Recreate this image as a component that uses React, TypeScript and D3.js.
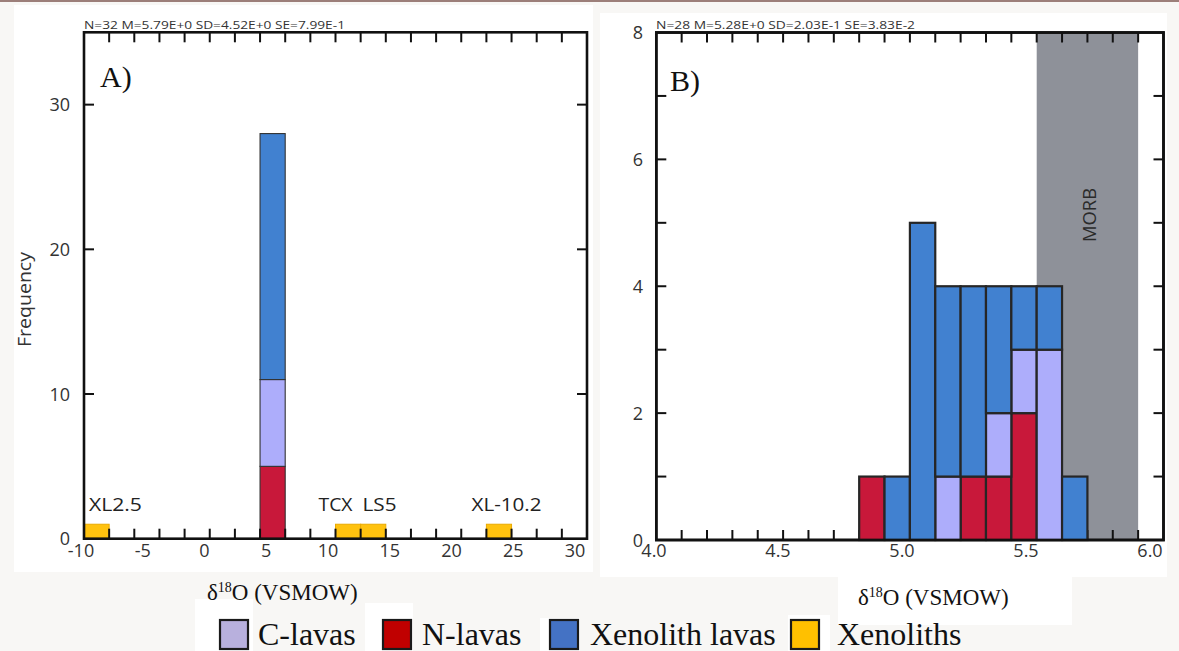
import React from "react";
import * as d3 from "d3";

const W = 1179;
const H = 651;

// ---------- data ----------
const statsA = "N=32 M=5.79E+0 SD=4.52E+0 SE=7.99E-1";
const statsB = "N=28 M=5.28E+0 SD=2.03E-1 SE=3.83E-2";

const stackKeys = ["nLavas", "cLavas", "xenoLavas", "xenoliths"];

// Panel A (bin width 2)
const binWidthA = 2;
const binStartA = [-10, 4, 10, 12, 22];
const nLavasA = [0, 5, 0, 0, 0];
const cLavasA = [0, 6, 0, 0, 0];
const xenoLavasA = [0, 17, 0, 0, 0];
const xenolithsA = [1, 0, 1, 1, 1];
const xenolithNames = ["XL2.5", "TCX", "LS5", "XL-10.2"];
const xenolithNameAt = [-7.5, 10, 13.5, 23.6];
const xTickLabelsA = [-10, -5, 0, 5, 10, 15, 20, 25, 30];
const yTickLabelsA = [0, 10, 20, 30];

// Panel B (bin width 0.1)
const binWidthB = 0.1;
const binStartB = [4.8, 4.9, 5.0, 5.1, 5.2, 5.3, 5.4, 5.5, 5.6];
const nLavasB = [1, 0, 0, 0, 1, 1, 2, 0, 0];
const cLavasB = [0, 0, 0, 1, 0, 1, 1, 3, 0];
const xenoLavasB = [0, 1, 5, 3, 3, 2, 1, 1, 1];
const xenolithsB = [0, 0, 0, 0, 0, 0, 0, 0, 0];
const morbRange = [5.5, 5.9];
const xTickLabelsB = [4.0, 4.5, 5.0, 5.5, 6.0];
const yTickLabelsB = [0, 2, 4, 6, 8];

// Legend
const legendKeys = ["cLavas", "nLavas", "xenoLavas", "xenoliths"];
const legendLabels = ["C-lavas", "N-lavas", "Xenolith lavas", "Xenoliths"];

// ---------- styles ----------
const barColor: Record<string, string> = {
  nLavas: "#c8183a",
  cLavas: "#adadfb",
  xenoLavas: "#4181d0",
  xenoliths: "#ffc20f",
};
const legendColor: Record<string, string> = {
  cLavas: "#b8b0dd",
  nLavas: "#c00000",
  xenoLavas: "#4472c4",
  xenoliths: "#ffc000",
};
const SANS = "'Open Sans', 'Noto Sans', sans-serif";
const SERIF = "'Liberation Serif', 'DejaVu Serif', serif";
const legendSwatchX = [220, 383, 550, 791];
const legendTextX = [258, 422, 590, 837];
const xenolithNameWidth = [53, 34, 34, 70];

// ---------- scales ----------
const xA = d3.scaleLinear().domain([-10, 30]).range([84, 587]);
const yA = d3.scaleLinear().domain([0, 35]).range([538.7, 32.3]);
const xLabA = d3.scaleLinear().domain([-10, 30]).range([81, 575]);

const xB = d3.scaleLinear().domain([4, 6]).range([656.3, 1163.5]);
const yB = d3.scaleLinear().domain([0, 8]).range([540, 32.5]);
const xLabB = d3.scaleLinear().domain([4, 6]).range([654, 1150]);

const stack = d3.stack<any>().keys(stackKeys);

const rowsA = binStartA.map((x0, i) => ({
  x0,
  nLavas: nLavasA[i],
  cLavas: cLavasA[i],
  xenoLavas: xenoLavasA[i],
  xenoliths: xenolithsA[i],
}));
const rowsB = binStartB.map((x0, i) => ({
  x0,
  nLavas: nLavasB[i],
  cLavas: cLavasB[i],
  xenoLavas: xenoLavasB[i],
  xenoliths: xenolithsB[i],
}));

function Bars({ rows, x, y, bw, thick }: any) {
  const series = stack(rows);
  const out: any[] = [];
  series.forEach((s: any) => {
    s.forEach((d: any, i: number) => {
      if (d[1] - d[0] <= 0) return;
      const x0 = x(rows[i].x0);
      const x1 = x(rows[i].x0 + bw);
      const key = s.key;
      out.push(
        <rect
          key={key + i}
          x={x0}
          y={y(d[1])}
          width={x1 - x0}
          height={y(d[0]) - y(d[1])}
          fill={barColor[key]}
          stroke={key === "xenoliths" ? "#e9a900" : thick ? "#262626" : "#333"}
          strokeWidth={key === "xenoliths" ? 1 : thick ? 2.2 : 1.1}
        />
      );
    });
  });
  return <g>{out}</g>;
}

function Frame({ x, y, xTicks, yTicks }: any) {
  const [x0, x1] = x.range();
  const [y0, y1] = y.range();
  const tl = 10;
  return (
    <g stroke="#111">
      {xTicks.map((t: number, i: number) => (
        <g key={"xt" + i} strokeWidth={2}>
          <line x1={x(t)} x2={x(t)} y1={y0} y2={y0 - tl} />
          <line x1={x(t)} x2={x(t)} y1={y1} y2={y1 + tl} />
        </g>
      ))}
      {yTicks.map((t: number, i: number) => (
        <g key={"yt" + i} strokeWidth={2}>
          <line x1={x0} x2={x0 + tl} y1={y(t)} y2={y(t)} />
          <line x1={x1} x2={x1 - tl} y1={y(t)} y2={y(t)} />
        </g>
      ))}
      <rect x={x0} y={y1} width={x1 - x0} height={y0 - y1} fill="none" strokeWidth={2.6} />
    </g>
  );
}

function DeltaTitle({ x, y }: { x: number; y: number }) {
  return (
    <text x={x} y={y} fontFamily={SERIF} fontSize={23} fill="#111">
      <tspan>δ</tspan>
      <tspan fontSize={14} dy={-8}>18</tspan>
      <tspan dy={8}>O (VSMOW)</tspan>
    </text>
  );
}

export default function App() {
  const xTicksA = d3.range(-8, 30, 2);
  const yTicksA = [10, 20, 30];
  const xTicksB = d3.range(1, 20).map((i) => 4 + i * 0.1);
  const yTicksB = d3.range(1, 8);

  return (
    <svg
      width={W}
      height={H}
      viewBox={`0 0 ${W} ${H}`}
      style={{ position: "absolute", left: 0, top: 0 }}
    >
      {/* background */}
      <rect x={0} y={0} width={W} height={H} fill="#f8f7f5" />
      <rect x={0} y={0} width={W} height={2} fill="#9c7f7a" />
      <rect x={14} y={5} width={579} height={567} fill="#ffffff" />
      <rect x={600} y={13} width={567} height={564} fill="#ffffff" />
      <rect x={838} y={570} width={234} height={55} fill="#ffffff" />
      <rect x={195} y={599} width={58} height={52} fill="#ffffff" />
      <rect x={365} y={603} width={48} height={48} fill="#ffffff" />
      <rect x={540} y={618} width={40} height={33} fill="#ffffff" />
      <rect x={788} y={615} width={42} height={36} fill="#ffffff" />

      {/* ---------- Panel A ---------- */}
      <text x={84} y={29} fontFamily={SANS} fontSize={11.5} fill="#333" textLength={261} lengthAdjust="spacingAndGlyphs">
        {statsA}
      </text>
      <Bars rows={rowsA} x={xA} y={yA} bw={binWidthA} thick={false} />
      <Frame x={xA} y={yA} xTicks={xTicksA} yTicks={yTicksA} />
      <text x={100} y={87} fontFamily={SERIF} fontSize={30} fill="#111">A)</text>
      {xenolithNames.map((n, i) => (
        <text
          key={n}
          x={xA(xenolithNameAt[i]) - xenolithNameWidth[i] / 2}
          y={511}
          fontFamily={SANS}
          fontSize={17.5}
          fill="#222"
          textLength={xenolithNameWidth[i]}
          lengthAdjust="spacingAndGlyphs"
        >
          {n}
        </text>
      ))}
      {xTickLabelsA.map((t) => (
        <text key={"xl" + t} x={xLabA(t)} y={557} textAnchor="middle" fontFamily={SANS} fontSize={18} fill="#333">
          {t}
        </text>
      ))}
      {yTickLabelsA.map((t) => (
        <text key={"yl" + t} x={70} y={yA(t) + 6.5} textAnchor="end" fontFamily={SANS} fontSize={18} fill="#333">
          {t}
        </text>
      ))}
      <text
        transform={`translate(31,299.5) rotate(-90)`}
        textAnchor="middle"
        fontFamily={SANS}
        fontSize={17.5}
        fill="#333"
        textLength={95}
        lengthAdjust="spacingAndGlyphs"
      >
        Frequency
      </text>
      <DeltaTitle x={207} y={600} />

      {/* ---------- Panel B ---------- */}
      <text x={656} y={29} fontFamily={SANS} fontSize={11.5} fill="#333" textLength={259} lengthAdjust="spacingAndGlyphs">
        {statsB}
      </text>
      <rect
        x={xB(morbRange[0])}
        y={yB(8)}
        width={xB(morbRange[1]) - xB(morbRange[0])}
        height={yB(0) - yB(8)}
        fill="#8e9199"
      />
      <text
        transform={`translate(1096,215) rotate(-90)`}
        textAnchor="middle"
        fontFamily={SANS}
        fontSize={18}
        fill="#2a2a2a"
        textLength={54}
        lengthAdjust="spacingAndGlyphs"
      >
        MORB
      </text>
      <Frame x={xB} y={yB} xTicks={xTicksB} yTicks={yTicksB} />
      <Bars rows={rowsB} x={xB} y={yB} bw={binWidthB} thick={true} />
      <rect x={xB.range()[0]} y={yB.range()[1]} width={xB.range()[1] - xB.range()[0]} height={yB.range()[0] - yB.range()[1]} fill="none" stroke="#111" strokeWidth={2.6} />
      <text x={670} y={91} fontFamily={SERIF} fontSize={30} fill="#111">B)</text>
      {xTickLabelsB.map((t) => (
        <text key={"bxl" + t} x={xLabB(t)} y={557} textAnchor="middle" fontFamily={SANS} fontSize={18} fill="#333">
          {d3.format(".1f")(t)}
        </text>
      ))}
      {yTickLabelsB.map((t) => (
        <text key={"byl" + t} x={643} y={yB(t) + 6.5} textAnchor="end" fontFamily={SANS} fontSize={18} fill="#333">
          {t}
        </text>
      ))}
      <DeltaTitle x={858} y={605} />

      {/* ---------- Legend ---------- */}
      {legendKeys.map((k, i) => (
        <g key={"lg" + k}>
          <rect x={legendSwatchX[i]} y={620} width={28} height={29} fill={legendColor[k]} stroke="#1a1a1a" strokeWidth={2.2} />
          <text x={legendTextX[i]} y={645} fontFamily={SERIF} fontSize={32} fill="#111">
            {legendLabels[i]}
          </text>
        </g>
      ))}
    </svg>
  );
}
